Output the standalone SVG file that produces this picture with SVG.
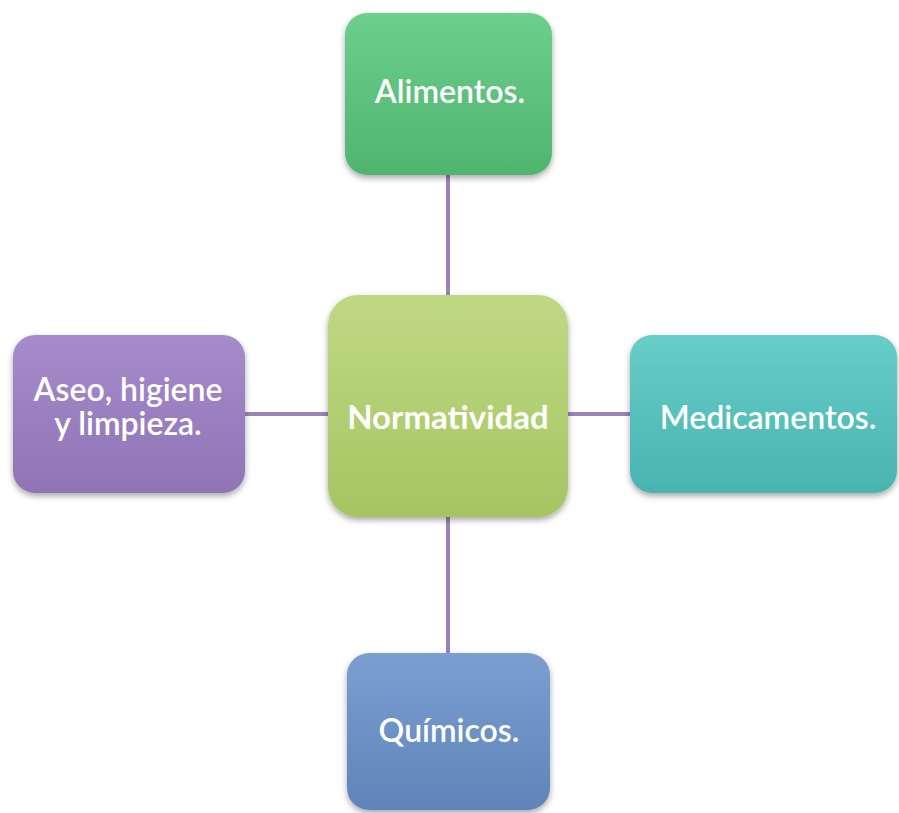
<svg xmlns="http://www.w3.org/2000/svg" width="899" height="813" viewBox="0 0 899 813">
  <defs>
    <linearGradient id="gGreen" x1="0" y1="0" x2="0" y2="1">
      <stop offset="0" stop-color="#6ccf8c"/>
      <stop offset="1" stop-color="#4fb56f"/>
    </linearGradient>
    <linearGradient id="gLime" x1="0" y1="0" x2="0" y2="1">
      <stop offset="0" stop-color="#bfd983"/>
      <stop offset="1" stop-color="#a6c562"/>
    </linearGradient>
    <linearGradient id="gPurple" x1="0" y1="0" x2="0" y2="1">
      <stop offset="0" stop-color="#a68ccb"/>
      <stop offset="1" stop-color="#8f74b6"/>
    </linearGradient>
    <linearGradient id="gTeal" x1="0" y1="0" x2="0" y2="1">
      <stop offset="0" stop-color="#67cdc8"/>
      <stop offset="1" stop-color="#49b4b0"/>
    </linearGradient>
    <linearGradient id="gBlue" x1="0" y1="0" x2="0" y2="1">
      <stop offset="0" stop-color="#7b9fd1"/>
      <stop offset="1" stop-color="#5f84b9"/>
    </linearGradient>
    <filter id="shadow" x="-10%" y="-10%" width="120%" height="125%">
      <feGaussianBlur in="SourceAlpha" stdDeviation="3"/>
      <feOffset dx="0" dy="3" result="b"/>
      <feComponentTransfer><feFuncA type="linear" slope="0.35"/></feComponentTransfer>
      <feMerge><feMergeNode/><feMergeNode in="SourceGraphic"/></feMerge>
    </filter>
  </defs>
  <style>
    .box { filter: url(#shadow); }
    .lbl { font-family: Lato, "Open Sans", "DejaVu Sans", sans-serif; font-size: 32px; font-weight: 600; fill: #ffffff; text-anchor: middle; }
    .bold { font-weight: bold; font-size: 33px; }
    .link { stroke: #9b82b8; stroke-width: 4; fill: none; }
  </style>
  <rect width="899" height="813" fill="#ffffff"/>

  <!-- connectors -->
  <g id="connectors">
    <line class="link" x1="448" y1="175" x2="448" y2="296"/>
    <line class="link" x1="448" y1="516" x2="448" y2="654"/>
    <line class="link" x1="245" y1="414" x2="329" y2="414"/>
    <line class="link" x1="567" y1="414" x2="631" y2="414"/>
  </g>

  <g id="alimentos">
    <rect class="box" x="345" y="13" width="207" height="162" rx="22" fill="url(#gGreen)"/>
    <text class="lbl" x="450" y="103">Alimentos.</text>
  </g>

  <g id="normatividad">
    <rect class="box" x="328" y="295" width="240" height="222" rx="30" fill="url(#gLime)"/>
    <text class="lbl bold" x="448" y="429">Normatividad</text>
  </g>

  <g id="aseo">
    <rect class="box" x="13" y="335" width="232" height="158" rx="22" fill="url(#gPurple)"/>
    <text class="lbl" x="128" y="401">Aseo, higiene</text>
    <text class="lbl" x="128" y="435">y limpieza.</text>
  </g>

  <g id="medicamentos">
    <rect class="box" x="630" y="335" width="267" height="158" rx="22" fill="url(#gTeal)"/>
    <text class="lbl" x="768" y="429">Medicamentos.</text>
  </g>

  <g id="quimicos">
    <rect class="box" x="347" y="653" width="203" height="157" rx="22" fill="url(#gBlue)"/>
    <text class="lbl" x="449" y="742">Químicos.</text>
  </g>
</svg>
